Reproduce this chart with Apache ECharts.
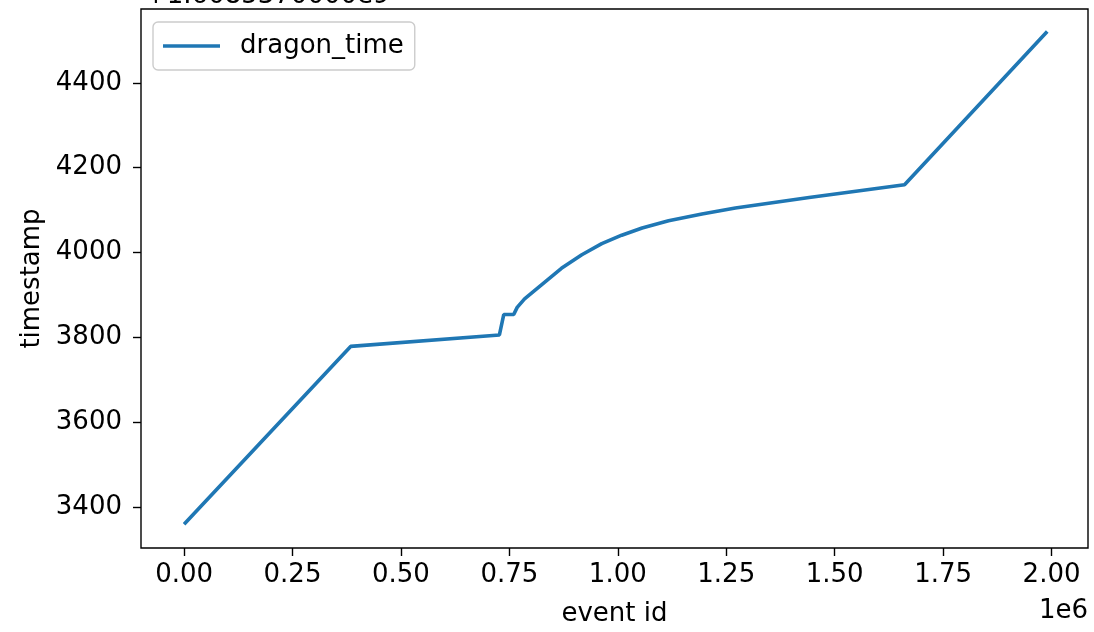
<!DOCTYPE html>
<html>
<head>
<meta charset="utf-8">
<script src="https://cdn.jsdelivr.net/npm/echarts@6/dist/echarts.min.js"></script>
<style>
html,body{margin:0;padding:0;background:#fff;}
#c{width:1094px;height:632px;}
</style>
</head>
<body>
<div id="c"></div>
<script>
const eventIds = [0, 384000, 727000, 737000, 760000, 768000, 785000, 824000, 870000, 917000, 963000, 1009000, 1056000, 1117000, 1194000, 1271000, 1441000, 1661000, 1990000];
const timestamps = [3360, 3779, 3806, 3854, 3854, 3871, 3891, 3924, 3963, 3995, 4021, 4041, 4058, 4075, 4091, 4105, 4130, 4160, 4521];
const xTicks = [0, 250000, 500000, 750000, 1000000, 1250000, 1500000, 1750000, 2000000];
const yTicks = [3400, 3600, 3800, 4000, 4200, 4400];
const seriesName = 'dragon_time';
const xLabel = 'event id';
const yLabel = 'timestamp';
const xOffsetText = '1e6';
const yOffsetText = '+1.6085370000e9';

const font = 'DejaVu Sans';
const fs = 26;
const chart = echarts.init(document.getElementById('c'), null, {renderer: 'canvas'});
const data = eventIds.map((x, i) => [x, timestamps[i]]);

chart.setOption({
  animation: false,
  backgroundColor: '#fff',
  grid: {left: 141, right: 6, top: 9, bottom: 80, show: true, borderColor: '#000', borderWidth: 1.4, backgroundColor: 'transparent'},
  xAxis: {
    type: 'value', min: -99300, max: 2084000,
    splitLine: {show: false},
    axisLine: {show: false, onZero: false},
    axisTick: {show: true, customValues: xTicks, length: 8, lineStyle: {color: '#000', width: 1.4}},
    axisLabel: {customValues: xTicks, color: '#000', fontFamily: font, fontSize: fs, margin: 14,
      formatter: v => (v / 1e6).toFixed(2)},
    name: xLabel, nameLocation: 'middle', nameGap: 53,
    nameTextStyle: {color: '#000', fontFamily: font, fontSize: fs}
  },
  yAxis: {
    type: 'value', min: 3304, max: 4574,
    splitLine: {show: false},
    axisLine: {show: false, onZero: false},
    axisTick: {show: true, customValues: yTicks, length: 8, lineStyle: {color: '#000', width: 1.4}},
    axisLabel: {customValues: yTicks, color: '#000', fontFamily: font, fontSize: fs, margin: 19,
      formatter: v => String(v)},
    name: yLabel, nameLocation: 'middle', nameGap: 96, nameRotate: 90,
    nameTextStyle: {color: '#000', fontFamily: font, fontSize: fs}
  },
  legend: {
    show: true, left: 153, top: 22,
    padding: [11, 11, 11, 10],
    backgroundColor: '#fff', borderColor: '#cccccc', borderWidth: 1.4, borderRadius: 5,
    itemWidth: 57, itemHeight: 3.6, itemGap: 10,
    icon: 'rect',
    textStyle: {color: '#000', fontFamily: font, fontSize: fs, padding: [0, 0, 0, 15]},
    data: [seriesName]
  },
  graphic: [
    {type: 'text', right: 6, top: 598, style: {text: xOffsetText, fill: '#000', font: fs + 'px "DejaVu Sans"'}},
    {type: 'text', left: 145, top: -17, style: {text: yOffsetText, fill: '#000', font: fs + 'px "DejaVu Sans"'}}
  ],
  series: [{
    name: seriesName, type: 'line', data: data, showSymbol: false, symbol: 'none',
    lineStyle: {color: '#1f77b4', width: 3.6}, itemStyle: {color: '#1f77b4'}
  }]
});
</script>
</body>
</html>
